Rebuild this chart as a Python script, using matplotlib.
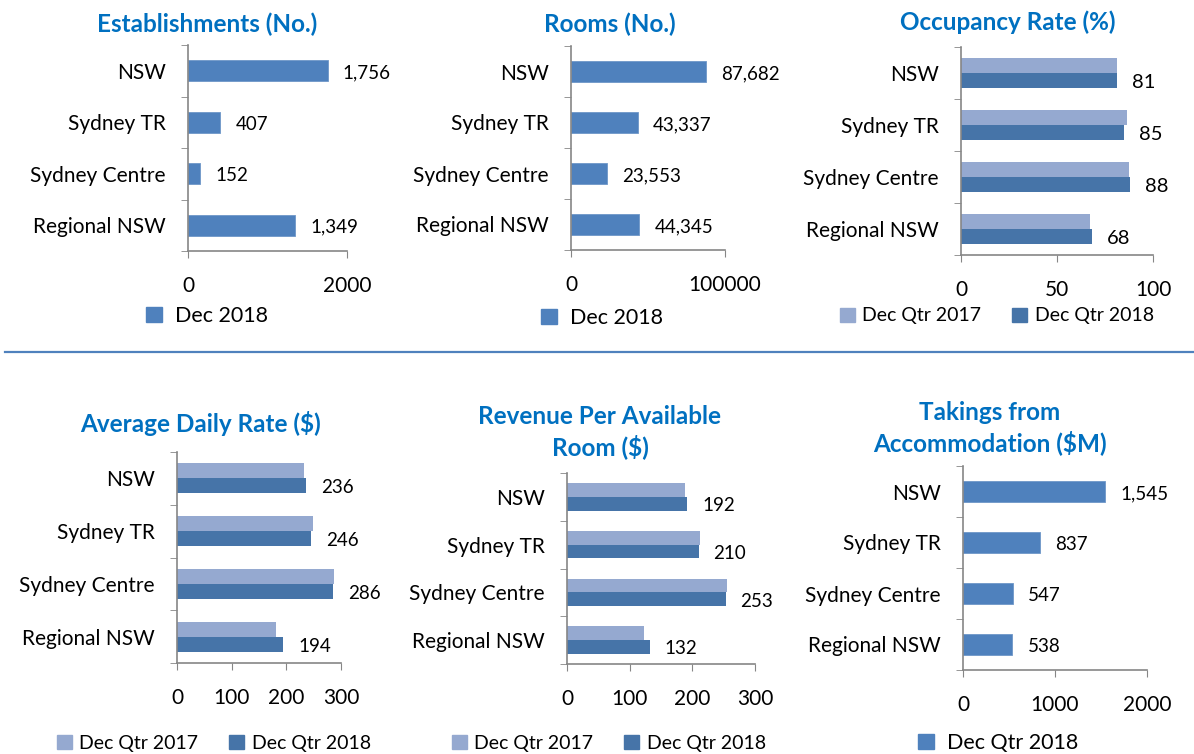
import matplotlib.pyplot as plt
import numpy as np
from matplotlib.patches import Patch
from matplotlib.lines import Line2D

plt.rcParams['font.family'] = ['Lato', 'DejaVu Sans']

# data
regions = ["NSW", "Sydney TR", "Sydney Centre", "Regional NSW"]
establishments = [1756, 407, 152, 1349]
rooms = [87682, 43337, 23553, 44345]
occ_2017 = [81.3, 86.3, 87.6, 67.0]
occ_2018 = [81, 85, 88, 68]
adr_2017 = [232, 248, 287, 181]
adr_2018 = [236, 246, 286, 194]
revpar_2017 = [189, 213, 255, 123]
revpar_2018 = [192, 210, 253, 132]
takings = [1545, 837, 547, 538]

W, H = 1194, 754
BLUE = "#4F81BD"
LIGHT = "#95A9D0"
DARK = "#4674A8"
TITLE = "#0070C0"
AXIS = "#868686"

fig = plt.figure(figsize=(W / 100, H / 100), dpi=100)


def add_ax(left, right, top, bottom):
    # pixel box -> figure fraction
    return fig.add_axes([left / W, 1 - bottom / H, (right - left) / W, (bottom - top) / H])


def style(ax, xmax, ticks):
    n = len(regions)
    ax.set_ylim(n - 0.5, -0.5)
    ax.set_xlim(0, xmax)
    ax.set_xticks(ticks)
    ax.set_xticklabels([str(t) for t in ticks], fontsize=15)
    ax.set_yticks(range(n))
    ax.set_yticklabels(regions, fontsize=15)
    ax.set_yticks(np.arange(-0.5, n, 1), minor=True)
    ax.tick_params(axis="y", which="major", length=0, pad=16)
    ax.tick_params(axis="y", which="minor", length=5, color=AXIS, direction="out")
    ax.tick_params(axis="x", length=5, color=AXIS, direction="out", pad=13)
    for s in ["top", "right"]:
        ax.spines[s].set_visible(False)
    for s in ["left", "bottom"]:
        ax.spines[s].set_color(AXIS)
        ax.spines[s].set_linewidth(1.2)


def label(ax, x, y, txt, size=13.5):
    ax.annotate(txt, (x, y), xytext=(15, -2), textcoords="offset pixels",
                ha="left", va="center", fontsize=size, color="black")


def single(box, vals, xmax, ticks, title, title_xy, leg_text, leg_xy, fmt="{:,}"):
    ax = add_ax(*box)
    y = np.arange(len(regions))
    ax.barh(y, vals, height=0.4, color=BLUE, edgecolor="#6E97C8", linewidth=0.6)
    for yi, v in zip(y, vals):
        label(ax, v, yi, fmt.format(v))
    style(ax, xmax, ticks)
    fig.text(title_xy[0] / W, 1 - title_xy[1] / H, title, ha="center", va="center",
             fontsize=17.5, fontweight="bold", color=TITLE, linespacing=1.3)
    fig.legend(handles=[Patch(color=BLUE, label=leg_text)], loc="center",
               bbox_to_anchor=(leg_xy[0] / W, 1 - leg_xy[1] / H), frameon=False,
               fontsize=15.5, handlelength=0.75, handleheight=0.75, handletextpad=0.6)


def double(box, v17, v18, xmax, ticks, title, title_xy, leg_xy, lsize=13.5):
    ax = add_ax(*box)
    y = np.arange(len(regions))
    h = 0.286
    ax.barh(y - h / 2, v17, height=h, color=LIGHT)
    ax.barh(y + h / 2, v18, height=h, color=DARK)
    for yi, v in zip(y, v18):
        label(ax, v, yi + h / 2, str(v), size=lsize)
    style(ax, xmax, ticks)
    fig.text(title_xy[0] / W, 1 - title_xy[1] / H, title, ha="center", va="center",
             fontsize=17.5, fontweight="bold", color=TITLE, linespacing=1.3)
    hs = [Patch(color=LIGHT, label="Dec Qtr 2017"), Patch(color=DARK, label="Dec Qtr 2018")]
    fig.legend(handles=hs, loc="center", ncol=2,
               bbox_to_anchor=(leg_xy[0] / W, 1 - leg_xy[1] / H), frameon=False,
               fontsize=14, handlelength=0.75, handleheight=0.75, handletextpad=0.4,
               columnspacing=1.6)


single((188, 347, 45, 251), establishments, 2000, [0, 2000],
       "Establishments (No.)", (207, 24), "Dec 2018", (207, 316))
single((571, 725, 46, 250), rooms, 100000, [0, 100000],
       "Rooms (No.)", (610, 24), "Dec 2018", (602, 318))
double((961, 1153, 47, 255), occ_2017, occ_2018, 100, [0, 50, 100],
       "Occupancy Rate (%)", (1008, 22), (997, 316), lsize=14.5)

double((177, 341, 452, 663), adr_2017, adr_2018, 300, [0, 100, 200, 300],
       "Average Daily Rate ($)", (201, 423), (214, 743))
double((567, 755, 473, 664), revpar_2017, revpar_2018, 300, [0, 100, 200, 300],
       "Revenue Per Available\nRoom ($)", (600, 432), (609, 743))
single((963, 1147, 466, 670), takings, 2000, [0, 1000, 2000],
       "Takings from\nAccommodation ($M)", (990, 428), "Dec Qtr 2018", (998, 743))

# separator line between the two rows
fig.add_artist(Line2D([5 / W, 1], [1 - 352.5 / H] * 2, color=BLUE, linewidth=1.6))

fig.savefig("out.png", dpi=100)
